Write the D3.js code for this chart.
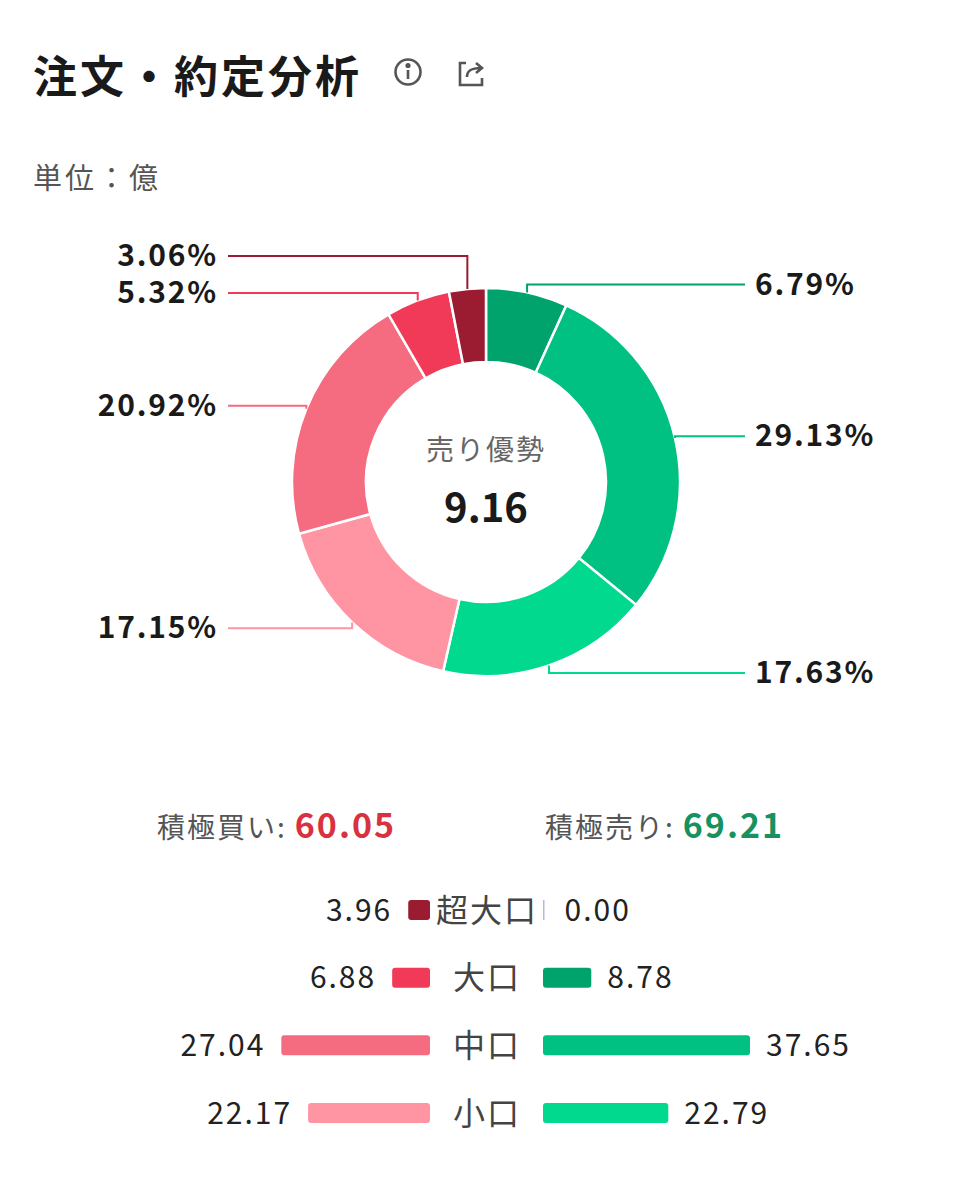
<!DOCTYPE html>
<html><head><meta charset="utf-8">
<script src="https://cdn.jsdelivr.net/npm/d3@7"></script>
<style>
body{margin:0;background:#fff;}
svg{font-family:"Noto Sans CJK JP","Noto Sans",sans-serif;}
</style></head>
<body><svg id="chart" width="972" height="1200"></svg>
<script>
// order clockwise from 12 o'clock
const sliceNames = ["売り超大口","売り大口","売り中口","売り小口","買い小口","買い中口","買い大口","買い超大口"];
const sliceValues = [0.00, 8.78, 37.65, 22.79, 22.17, 27.04, 6.88, 3.96];
const sliceColors = ["#008a5a","#00a36c","#00c082","#00d98e","#ff94a3","#f56b80","#f03a58","#9b1b30"];

const rowLabels = ["超大口","大口","中口","小口"];
const buyValues = [3.96, 6.88, 27.04, 22.17];
const sellValues = [0.00, 8.78, 37.65, 22.79];
const buyColors = ["#9b1b30","#f03a58","#f56b80","#ff94a3"];
const sellColors = ["#008a5a","#00a36c","#00c082","#00d98e"];

const buyTotal = 60.05, sellTotal = 69.21, centerValue = 9.16;

const svg = d3.select("#chart");

// header
svg.append("text").attr("x", 33).attr("y", 93).attr("font-size", 44).attr("font-weight", 700)
  .attr("letter-spacing", 3).attr("fill", "#1a1a1a").text("注文・約定分析");
const info = svg.append("g").attr("transform", "translate(408,72)").attr("stroke", "#555").attr("fill", "none").attr("stroke-width", 2.6);
info.append("circle").attr("r", 12.5);
info.append("line").attr("x1", 0).attr("x2", 0).attr("y1", -2).attr("y2", 7);
info.append("circle").attr("cx", 0).attr("cy", -6.5).attr("r", 1.3).attr("fill", "#555");
const share = svg.append("g").attr("transform", "translate(458,60)").attr("stroke", "#555").attr("fill", "none").attr("stroke-width", 2.6);
share.append("path").attr("d", "M8,3 H2 V25 H24 V18");
share.append("path").attr("d", "M9,17 C9,10 14,8 23,8 M18,3 L24,8 L18,13");

svg.append("text").attr("x", 33).attr("y", 189).attr("font-size", 29).attr("letter-spacing", 3)
  .attr("fill", "#555").text("単位：億");

// donut
const cx = 486, cy = 482, rOut = 194, rIn = 120;
const total = d3.sum(sliceValues);
const pie = d3.pie().sort(null).value(d => d.v)(sliceValues.map((v, i) => ({v, i})));
const arc = d3.arc().innerRadius(rIn).outerRadius(rOut);
const g = svg.append("g").attr("transform", `translate(${cx},${cy})`);
g.selectAll("path").data(pie).enter().append("path")
  .attr("d", arc).attr("fill", d => sliceColors[d.data.i])
  .attr("stroke", "#fff").attr("stroke-width", 2.5);

// labels
const labels = pie.filter(d => d.data.v > 0).map(d => {
  const a = (d.startAngle + d.endAngle) / 2;
  return {sx: Math.sin(a) * rOut, sy: -Math.cos(a) * rOut, y: -Math.cos(a) * (rOut + 8),
    right: a < Math.PI, pct: d.data.v / total * 100, color: sliceColors[d.data.i]};
});
["left", "right"].forEach(side => {
  const arr = labels.filter(l => (side === "right") === l.right).sort((p, q) => q.y - p.y);
  for (let k = 1; k < arr.length; k++) {
    if (arr[k - 1].y - arr[k].y < 37) arr[k].y = arr[k - 1].y - 37;
  }
});
labels.forEach(l => {
  const ex = l.right ? 745 - cx : 228 - cx;
  g.append("polyline").attr("points", `${l.sx},${l.sy} ${l.sx},${l.y} ${ex},${l.y}`)
    .attr("fill", "none").attr("stroke", l.color).attr("stroke-width", 2);
  g.append("text").attr("x", l.right ? ex + 10 : ex - 10).attr("y", l.y).attr("dy", "0.34em")
    .attr("text-anchor", l.right ? "start" : "end").attr("font-size", 30).attr("font-weight", 700)
    .attr("letter-spacing", 1.8).attr("fill", "#1a1a1a").text(l.pct.toFixed(2) + "%");
});

g.append("text").attr("y", -22).attr("text-anchor", "middle").attr("font-size", 28).attr("letter-spacing", 2)
  .attr("fill", "#666").text("売り優勢");
g.append("text").attr("y", 40).attr("text-anchor", "middle").attr("font-size", 40).attr("font-weight", 700)
  .attr("fill", "#1a1a1a").text(centerValue.toFixed(2));

// totals
function total2(x, label, value, color) {
  const t = svg.append("text").attr("y", 838).attr("font-size", 28);
  t.append("tspan").attr("x", x).attr("fill", "#555").attr("letter-spacing", 2).text(label + ":");
  t.append("tspan").attr("dx", 8).attr("fill", color).attr("font-weight", 700).attr("font-size", 34)
    .attr("letter-spacing", 2).text(value.toFixed(2));
}
total2(157, "積極買い", buyTotal, "#d8323f");
total2(545, "積極売り", sellTotal, "#16915f");

// legend bars
const w = d3.scaleLinear().domain([0, 37.65]).range([0, 207]);
const y = d3.scalePoint().domain(rowLabels).range([910, 1113]);
const bh = 20, bx = 430, sx0 = 543;
rowLabels.forEach((lab, i) => {
  const yy = y(lab);
  svg.append("text").attr("x", 487).attr("y", yy).attr("dy", "0.36em").attr("text-anchor", "middle")
    .attr("font-size", 32).attr("letter-spacing", 2).attr("fill", "#444").text(lab);
  const bw = w(buyValues[i]);
  svg.append("rect").attr("x", bx - bw).attr("y", yy - bh / 2).attr("width", bw).attr("height", bh).attr("rx", 3).attr("fill", buyColors[i]);
  svg.append("text").attr("x", bx - bw - 16).attr("y", yy).attr("dy", "0.36em").attr("text-anchor", "end")
    .attr("font-size", 30).attr("letter-spacing", 2).attr("fill", "#222").text(buyValues[i].toFixed(2));
  const sw = Math.max(w(sellValues[i]), 1.5);
  svg.append("rect").attr("x", sx0).attr("y", yy - bh / 2).attr("width", sw).attr("height", bh).attr("rx", sellValues[i] > 0 ? 3 : 0)
    .attr("fill", sellValues[i] > 0 ? sellColors[i] : "#b9b6e0");
  svg.append("text").attr("x", sx0 + sw + 16 + (sellValues[i] > 0 ? 0 : 4)).attr("y", yy).attr("dy", "0.36em")
    .attr("font-size", 30).attr("letter-spacing", 2).attr("fill", "#222").text(sellValues[i].toFixed(2));
});
</script></body></html>
